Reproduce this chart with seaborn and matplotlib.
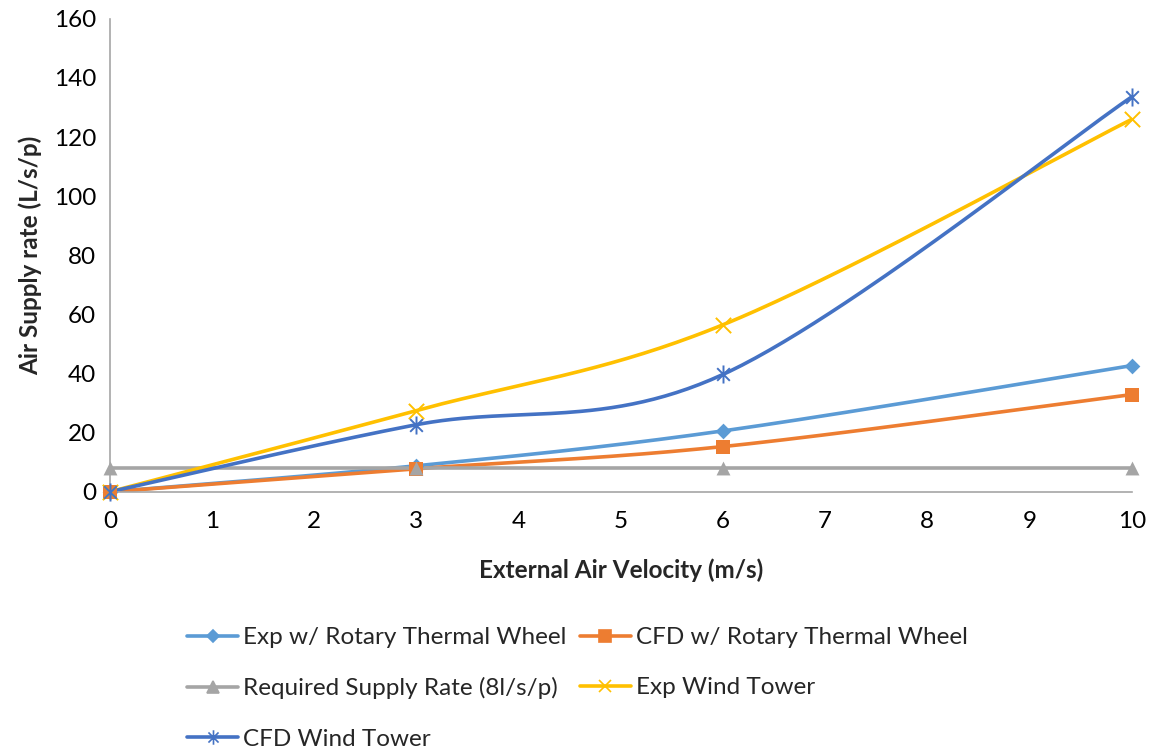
import numpy as np
import pandas as pd
import matplotlib
matplotlib.use('Agg')
import matplotlib.pyplot as plt
import seaborn as sns
from matplotlib.lines import Line2D
from matplotlib.path import Path

# data
velocity = [0, 3, 6, 10]
exp_rotary = [0, 8.8, 20.6, 42.7]
cfd_rotary = [0, 7.8, 15.3, 32.9]
required = [8, 8, 8, 8]
exp_tower = [0, 27.5, 56.5, 126.0]
cfd_tower = [0, 22.7, 39.7, 133.6]

names = ['Exp w/ Rotary Thermal Wheel', 'CFD w/ Rotary Thermal Wheel',
         'Required Supply Rate (8l/s/p)', 'Exp Wind Tower', 'CFD Wind Tower']
series = [exp_rotary, cfd_rotary, required, exp_tower, cfd_tower]
colors = ['#5B9BD5', '#ED7D31', '#A5A5A5', '#FFC000', '#4472C4']

# excel "star" marker: an x with a vertical bar through it
star = Path([(-0.7, -0.7), (0.7, 0.7), (-0.7, 0.7), (0.7, -0.7), (0, -1), (0, 1)],
            [Path.MOVETO, Path.LINETO, Path.MOVETO, Path.LINETO, Path.MOVETO, Path.LINETO])
markers = ['D', 's', '^', 'x', star]
msizes = [8, 10, 10, 11, 13]
line_marker = [False, False, False, True, True]

sns.set_style('white')
plt.rcParams['font.family'] = ['Lato', 'DejaVu Sans']


def smooth(xs, ys, n=60):
    # excel-like smoothed line (bezier through points, in screen-ish proportions)
    sx, sy = 1022 / 10, 473 / 160
    P = np.column_stack([np.array(xs) * sx, np.array(ys) * sy])
    P = np.vstack([P[0], P, P[-1]])
    out = []
    for i in range(1, len(P) - 2):
        p0, p1, p2, p3 = P[i - 1], P[i], P[i + 1], P[i + 2]
        c1 = p1 + (p2 - p0) / 6
        c2 = p2 - (p3 - p1) / 6
        t = np.linspace(0, 1, n)[:, None]
        seg = ((1 - t) ** 3) * p1 + 3 * ((1 - t) ** 2) * t * c1 + 3 * (1 - t) * t ** 2 * c2 + t ** 3 * p2
        out.append(seg if i == 1 else seg[1:])
    out = np.vstack(out)
    return out[:, 0] / sx, out[:, 1] / sy


fig = plt.figure(figsize=(11.56, 7.52), dpi=100)
ax = fig.add_axes([0.095, 0.346, 0.884, 0.629])

handles = []
for name, ys, c, m, ms, lm in zip(names, series, colors, markers, msizes, line_marker):
    sx_, sy_ = smooth(velocity, ys)
    sns.lineplot(x=sx_, y=sy_, sort=False, ax=ax, color=c, linewidth=2.6, estimator=None)
    sns.scatterplot(x=velocity, y=ys, ax=ax, color=c, marker=m, s=ms ** 2, clip_on=False,
                    linewidth=1.4 if lm else 0, edgecolor=c, zorder=5)
    handles.append(Line2D([], [], color=c, linewidth=2.6, marker=m, markersize=ms * 0.8,
                          markeredgecolor=c, markeredgewidth=1.2))

ax.set_xlim(0, 10)
ax.set_ylim(0, 160)
ax.set_xticks(range(0, 11))
ax.set_yticks(range(0, 161, 20))
for s in ['top', 'right']:
    ax.spines[s].set_visible(False)
for s in ['left', 'bottom']:
    ax.spines[s].set_color('#A6A6A6')
    ax.spines[s].set_linewidth(1.2)
ax.tick_params(axis='both', which='both', direction='out', length=6, width=1.2,
               color='#A6A6A6', labelsize=17.5, labelcolor='black', pad=4)
ax.tick_params(axis='x', pad=8)
ax.set_xlabel('External Air Velocity (m/s)', fontsize=17.5, fontweight='bold', labelpad=19)
ax.set_ylabel('Air Supply rate (L/s/p)', fontsize=17.5, fontweight='bold', labelpad=8)

# row-major legend order
order = [0, 2, 4, 1, 3]
fig.legend(handles=[handles[i] for i in order], labels=[names[i] for i in order],
           loc='upper left', bbox_to_anchor=(0.162, 0.166),
           ncol=2, frameon=False, fontsize=17.5, handlelength=2.1, handletextpad=0.2,
           columnspacing=0.55, labelspacing=1.2, borderaxespad=0, borderpad=0)

fig.savefig('out.png', dpi=100)
